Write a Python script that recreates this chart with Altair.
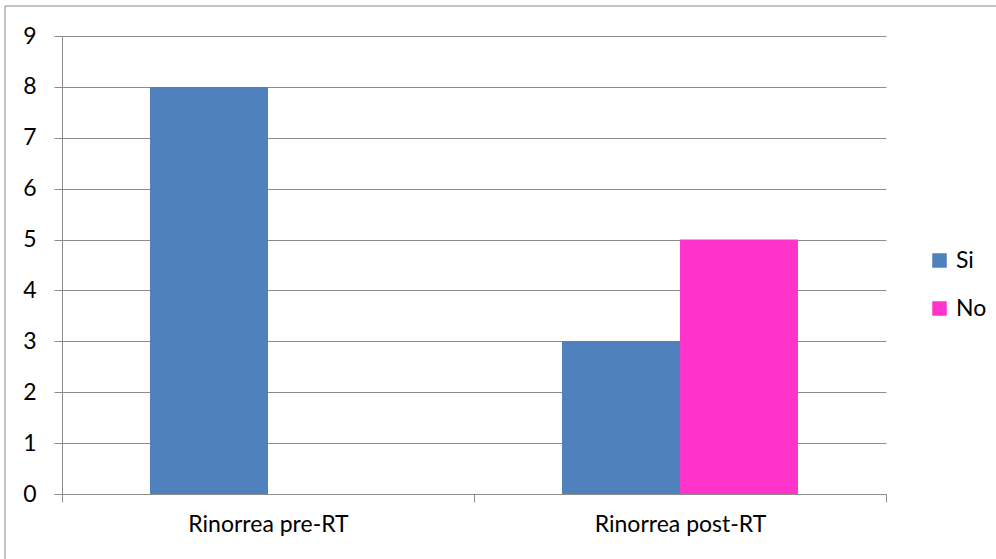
import altair as alt
import pandas as pd

categories = ["Rinorrea pre-RT", "Rinorrea post-RT"]
series = ["Si", "No"]
si_values = [8, 3]
no_values = [0, 5]
colors = ["#4F81BD", "#FF33CC"]
y_ticks = [0, 1, 2, 3, 4, 5, 6, 7, 8, 9]

rows = []
for c, s, n in zip(categories, si_values, no_values):
    rows.append({"cat": c, "serie": "Si", "val": s})
    rows.append({"cat": c, "serie": "No", "val": n})
df = pd.DataFrame(rows)

FONT = "Lato"
FS = 23
GRID = "#8c8c8c"

bars = alt.Chart(df).mark_bar().encode(
    x=alt.X("cat:N", sort=categories, title=None,
            scale=alt.Scale(paddingInner=0, paddingOuter=0),
            axis=alt.Axis(tickBand="extent", labelAngle=0, labelFont=FONT,
                          labelFontSize=FS, labelColor="#000000",
                          domainColor=GRID, tickColor=GRID, tickSize=8,
                          labelPadding=11, grid=False)),
    xOffset=alt.XOffset("serie:N", sort=series,
                        scale=alt.Scale(paddingInner=0, paddingOuter=0.746)),
    y=alt.Y("val:Q", title=None,
            scale=alt.Scale(domain=[0, 9], nice=False),
            axis=alt.Axis(values=y_ticks, labelFont=FONT, labelFontSize=FS,
                          labelColor="#000000", domainColor=GRID, tickColor=GRID,
                          gridColor=GRID, tickSize=8, labelPadding=18, grid=True)),
    color=alt.Color("serie:N", sort=series,
                    scale=alt.Scale(domain=series, range=colors),
                    legend=alt.Legend(title=None, orient="none", legendX=866,
                                      legendY=213, symbolType="square",
                                      symbolSize=210, symbolStrokeWidth=0,
                                      labelFont=FONT, labelFontSize=FS,
                                      labelColor="#000000", rowPadding=24,
                                      padding=0, labelOffset=5)),
)

frame = alt.Chart(pd.DataFrame({"a": [0]})).mark_rect(
    fill=None, stroke="#868686", strokeWidth=1, clip=False
).encode(
    x=alt.value(-57), x2=alt.value(970), y=alt.value(-30), y2=alt.value(540)
)

chart = alt.layer(frame, bars).properties(
    width=824, height=458,
    padding={"left": 62, "top": 36, "right": 110, "bottom": 65},
    autosize=alt.AutoSizeParams(type="none"),
    background="#ffffff",
).configure_view(stroke=None)

chart.save("out.html", embed_options={"renderer": "svg", "actions": False})
